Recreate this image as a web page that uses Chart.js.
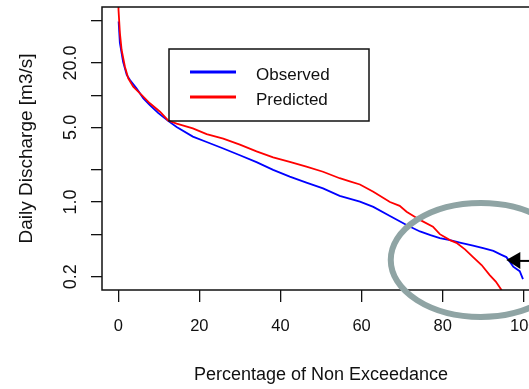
<!DOCTYPE html>
<html>
<head>
<meta charset="utf-8">
<script src="https://cdn.jsdelivr.net/npm/chart.js@4.4.1/dist/chart.umd.min.js"></script>
<style>
  html, body { margin: 0; padding: 0; background: #fff; overflow: hidden; }
  #wrap { width: 541px; height: 389px; }
</style>
</head>
<body>
<div id="wrap"><canvas id="fdc" width="541" height="389"></canvas></div>
<script>
// Flow duration curves
const obsPct = [0.1, 0.4, 1.2, 2.1, 2.9, 4.5, 6.2, 7.8, 9.9, 12.3, 14.4, 18.4, 21.8, 25.9, 30.0,
  34.1, 38.2, 42.3, 46.4, 50.5, 54.6, 59.6, 62.9, 67.0, 71.1, 74.4, 77.0, 79.3, 81.8, 84.5,
  87.5, 90.0, 92.5, 94.5, 95.7, 96.6, 97.4, 98.3, 99.0, 99.8];
const obsQ = [49, 31, 20.6, 15.5, 13.9, 11.6, 9.35, 8.07, 6.8, 5.75, 5.05, 4.1, 3.65, 3.17, 2.74,
  2.36, 2.0, 1.73, 1.52, 1.34, 1.14, 1.01, 0.90, 0.74, 0.61, 0.53, 0.49, 0.46, 0.44, 0.415,
  0.39, 0.37, 0.348, 0.32, 0.305, 0.275, 0.248, 0.235, 0.225, 0.19];

const predPct = [0.0, 0.07, 0.42, 0.84, 1.65, 2.47, 3.7, 5.8, 7.8, 10.3, 12.3, 14.4, 18.4, 21.8,
  25.9, 30.0, 34.1, 38.2, 42.3, 46.4, 50.5, 54.6, 57.1, 59.6, 62.9, 67.0, 69.4, 71.1, 74.4,
  77.6, 79.3, 81.8, 83.4, 85.5, 87.5, 89.6, 91.6, 93.1, 94.5, 95.0];
const predQ = [120, 63, 38, 26.5, 18.5, 14.4, 12.0, 10.0, 8.4, 7.0, 5.8, 5.42, 4.9, 4.32,
  3.92, 3.45, 2.98, 2.62, 2.38, 2.14, 1.92, 1.67, 1.56, 1.46, 1.25, 1.0, 0.92, 0.81, 0.68,
  0.587, 0.50, 0.44, 0.415, 0.36, 0.305, 0.257, 0.207, 0.18, 0.15, 0.13];

const xTicks = [0, 20, 40, 60, 80, 100];
const yTicks = [0.2, 0.5, 1, 2, 5, 10, 20, 50];
const yTickLabels = ['0.2', '', '1.0', '', '5.0', '', '20.0', ''];

const seriesNames = ['Observed', 'Predicted'];
const seriesColors = ['#0000ff', '#ff0000'];

// hand-drawn notes on the picture, in data units
const ringPct = [67.2, 111.6];
const ringQ = [0.084, 0.98];
const arrowPct = [95.7, 106];
const arrowQ = 0.287;

const FONT = '"Liberation Sans", Arial, sans-serif';

function toPoints(xs, ys) {
  return xs.map((x, i) => ({ x: x, y: ys[i] }));
}

// frame, legend, ellipse and arrow
const notesPlugin = {
  id: 'notes',
  afterDatasetsDraw(chart) {
    const { ctx, chartArea: a, scales } = chart;
    const xs = scales.x, ys = scales.y;
    ctx.save();

    // box round the plot
    ctx.strokeStyle = '#111';
    ctx.lineWidth = 1.5;
    ctx.strokeRect(a.left, a.top, a.right - a.left, a.bottom - a.top);

    // legend
    ctx.strokeRect(169, 49, 200, 72);
    const rows = [72, 97];
    ctx.font = '17px ' + FONT;
    ctx.textBaseline = 'middle';
    ctx.textAlign = 'left';
    chart.data.datasets.forEach((ds, i) => {
      ctx.strokeStyle = ds.borderColor;
      ctx.lineWidth = 3;
      ctx.beginPath();
      ctx.moveTo(190, rows[i]);
      ctx.lineTo(236, rows[i]);
      ctx.stroke();
      ctx.fillStyle = '#111';
      ctx.fillText(ds.label, 256, rows[i] + 3.5);
    });

    // ellipse round the low flows
    const x0 = xs.getPixelForValue(ringPct[0]);
    const x1 = xs.getPixelForValue(ringPct[1]);
    const y0 = ys.getPixelForValue(ringQ[1]);
    const y1 = ys.getPixelForValue(ringQ[0]);
    ctx.strokeStyle = '#8fa4a4';
    ctx.lineWidth = 6;
    ctx.beginPath();
    ctx.ellipse((x0 + x1) / 2, (y0 + y1) / 2, (x1 - x0) / 2, (y1 - y0) / 2, 0, 0, Math.PI * 2);
    ctx.stroke();

    // arrow
    const tipX = xs.getPixelForValue(arrowPct[0]);
    const tailX = xs.getPixelForValue(arrowPct[1]);
    const ay = ys.getPixelForValue(arrowQ);
    ctx.strokeStyle = '#000';
    ctx.fillStyle = '#000';
    ctx.lineWidth = 2;
    ctx.beginPath();
    ctx.moveTo(tipX + 12, ay + 1);
    ctx.lineTo(tailX, ay + 1);
    ctx.stroke();
    ctx.beginPath();
    ctx.moveTo(tipX, ay);
    ctx.lineTo(tipX + 14, ay - 8);
    ctx.lineTo(tipX + 14, ay + 9);
    ctx.closePath();
    ctx.fill();

    ctx.restore();
  }
};

new Chart(document.getElementById('fdc'), {
  type: 'line',
  data: {
    datasets: [
      {
        label: seriesNames[0],
        data: toPoints(obsPct, obsQ),
        borderColor: seriesColors[0],
        borderWidth: 1.8,
        pointRadius: 0,
        tension: 0,
        order: 2
      },
      {
        label: seriesNames[1],
        data: toPoints(predPct, predQ),
        borderColor: seriesColors[1],
        borderWidth: 1.8,
        pointRadius: 0,
        tension: 0,
        order: 1
      }
    ]
  },
  options: {
    responsive: false,
    animation: false,
    devicePixelRatio: 1,
    layout: { padding: { top: 7, right: 1, bottom: 0, left: 0 } },
    plugins: {
      legend: { display: false },
      tooltip: { enabled: false }
    },
    scales: {
      x: {
        type: 'linear',
        min: -4,
        max: 104,
        afterBuildTicks: s => { s.ticks = xTicks.map(v => ({ value: v })); },
        afterFit: s => { s.height = 99; s.paddingLeft = 0; s.paddingRight = 0; },
        ticks: {
          autoSkip: false,
          maxRotation: 0,
          padding: 15,
          color: '#111',
          font: { family: FONT, size: 16.5 },
          callback: v => String(v)
        },
        grid: { drawOnChartArea: false, tickLength: 12, color: '#111', lineWidth: 1.3 },
        border: { display: false },
        title: {
          display: true,
          text: 'Percentage of Non Exceedance',
          color: '#111',
          font: { family: FONT, size: 18 },
          padding: { top: 0, bottom: 3 }
        }
      },
      y: {
        type: 'logarithmic',
        min: 0.15,
        max: 67,
        afterBuildTicks: s => { s.ticks = yTicks.map(v => ({ value: v })); },
        afterFit: s => { s.width = 102; s.paddingTop = 0; s.paddingBottom = 0; },
        ticks: {
          autoSkip: false,
          minRotation: 90,
          maxRotation: 90,
          crossAlign: 'center',
          padding: 2,
          color: '#111',
          font: { family: FONT, size: 18 },
          callback: (v, i) => yTickLabels[i]
        },
        grid: { drawOnChartArea: false, tickLength: 11, color: '#111', lineWidth: 1.3 },
        border: { display: false },
        title: {
          display: true,
          text: 'Daily Discharge [m3/s]',
          color: '#111',
          font: { family: FONT, size: 19 },
          padding: { top: 15.5, bottom: 0 }
        }
      }
    }
  },
  plugins: [notesPlugin]
});
</script>
</body>
</html>
